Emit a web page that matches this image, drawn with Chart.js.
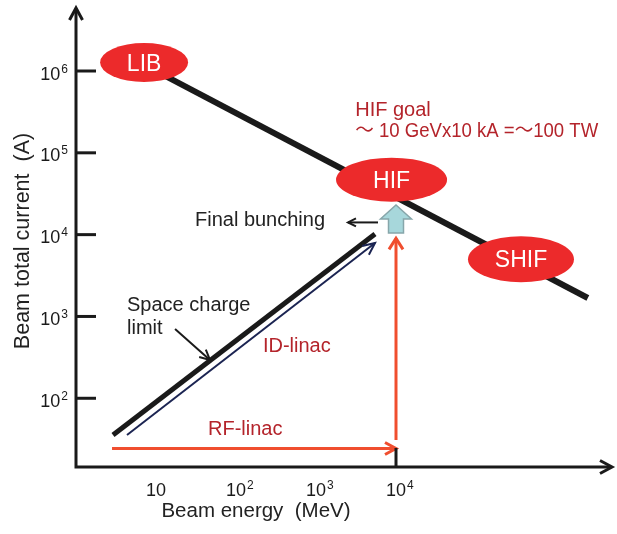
<!DOCTYPE html>
<html>
<head>
<meta charset="utf-8">
<script src="https://cdn.jsdelivr.net/npm/chart.js@4"></script>
<style>
  html, body { margin: 0; padding: 0; background: #fff; }
  #wrap { width: 617px; height: 534px; position: relative; }
</style>
</head>
<body>
<div id="wrap"><canvas id="chart"></canvas></div>
<script>
// Beam total current versus beam energy for ion-beam fusion drivers (log-log).

// Axis ticks
const energyTicks = [10, 100, 1000, 10000];                  // MeV
const currentTicks = [100, 1000, 10000, 100000, 1000000];    // A

// Driver regimes
const regimeNames = ['LIB', 'HIF', 'SHIF'];
const regimeEnergy = [7.1, 8800, 3.65e5];
const regimeCurrent = [1.27e6, 4.7e4, 5.0e3];

// Constant-power line through the regimes
const powerLineEnergy = [8.4, 2.5e6];
const powerLineCurrent = [1.09e6, 1.68e3];

// Space charge limit
const scLimitEnergy = [2.9, 5465];
const scLimitCurrent = [35.6, 1.02e4];

// Induction linac path
const idLinacEnergy = [4.34, 5465];
const idLinacCurrent = [35.6, 7900];

// RF linac: acceleration, then current build-up at 10 GeV
const rfAccelEnergy = [2.82, 10000];
const rfAccelCurrent = [24.3, 24.3];
const rfStackEnergy = [10000, 10000];
const rfStackCurrent = [30.9, 9000];

// Final bunching
const bunchEnergy = [10000, 10000];
const bunchCurrent = [1.05e4, 2.3e4];
const bunchPointerEnergy = [5960, 2510];
const bunchPointerCurrent = [1.41e4, 1.41e4];

// Callout for the space charge limit
const scPointerEnergy = [17.3, 47.3];
const scPointerCurrent = [703, 294];

const FONT = "'Liberation Sans', Arial, Helvetica, 'Noto Sans CJK JP', sans-serif";
const DARK_RED = '#b4242b';
const ELLIPSE_RED = '#ec2a2b';
const ARROW_RED = '#f04e2f';
const NAVY = '#1b2452';

// Text annotations anchored in data coordinates (left edge, baseline)
const notes = [
  { text: 'HIF goal', e: 3090, i: 2.82e5, color: DARK_RED },
  { text: '～ 10 GeVx10 kA =～100 TW', e: 3090, i: 1.56e5, color: DARK_RED, maxWidth: 243 },
  { text: 'Final bunching', e: 30.7, i: 1.28e4, color: '#222' },
  { text: 'Space charge', e: 4.34, i: 1170, color: '#222' },
  { text: 'limit', e: 4.34, i: 611, color: '#222' },
  { text: 'ID-linac', e: 217, i: 368, color: DARK_RED },
  { text: 'RF-linac', e: 44.7, i: 35.6, color: DARK_RED }
];

// Ellipse radii for the regime badges
const badgeSize = { LIB: [44, 19.5], HIF: [55.5, 22], SHIF: [53, 23] };

const pts = (ex, iy) => ex.map((v, k) => ({ x: v, y: iy[k] }));

function line(data, color, width, head) {
  return {
    data, borderColor: color, borderWidth: width, pointRadius: 0,
    pointHoverRadius: 0, fill: false, tension: 0, borderCapStyle: 'butt',
    arrowHead: head || null
  };
}

function openHead(ctx, x1, y1, x2, y2, len, half, color, lw) {
  const ang = Math.atan2(y2 - y1, x2 - x1);
  const bx = x2 - len * Math.cos(ang), by = y2 - len * Math.sin(ang);
  const nx = -Math.sin(ang), ny = Math.cos(ang);
  ctx.save();
  ctx.strokeStyle = color;
  ctx.lineWidth = lw;
  ctx.lineJoin = 'miter';
  ctx.lineCap = 'butt';
  ctx.beginPath();
  ctx.moveTo(bx + nx * half, by + ny * half);
  ctx.lineTo(x2, y2);
  ctx.lineTo(bx - nx * half, by - ny * half);
  ctx.stroke();
  ctx.restore();
}

function powerLabel(ctx, value, x, y, align, baseSize, supSize) {
  const exp = Math.round(Math.log10(value));
  ctx.font = baseSize + 'px ' + FONT;
  const wBase = ctx.measureText('10').width;
  ctx.font = supSize + 'px ' + FONT;
  const sup = exp === 1 ? '' : String(exp);
  const wSup = sup ? ctx.measureText(sup).width + 1 : 0;
  let left;
  if (align === 'right') left = x - wBase - wSup;
  else left = x - wBase / 2;   // base digits centred on the tick
  ctx.textAlign = 'left';
  ctx.textBaseline = 'alphabetic';
  ctx.font = baseSize + 'px ' + FONT;
  ctx.fillText('10', left, y);
  if (sup) {
    ctx.font = supSize + 'px ' + FONT;
    ctx.fillText(sup, left + wBase + 1, y - 7);
  }
}

const overlay = {
  id: 'overlay',
  afterDatasetsDraw(chart) {
    const { ctx, scales: { x, y } } = chart;

    // arrowheads at the end of flagged datasets
    chart.data.datasets.forEach((ds, k) => {
      if (!ds.arrowHead) return;
      const el = chart.getDatasetMeta(k).data;
      const p1 = el[el.length - 2], p2 = el[el.length - 1];
      openHead(ctx, p1.x, p1.y, p2.x, p2.y, ds.arrowHead[0], ds.arrowHead[1], ds.borderColor, ds.borderWidth);
    });

    // block arrow for final bunching
    const bx = x.getPixelForValue(bunchEnergy[0]);
    const yb = y.getPixelForValue(bunchCurrent[0]);
    const yt = y.getPixelForValue(bunchCurrent[1]);
    const headH = 14, headW = 15.5, shaftW = 7.5;
    ctx.save();
    ctx.beginPath();
    ctx.moveTo(bx - shaftW, yb);
    ctx.lineTo(bx - shaftW, yt + headH);
    ctx.lineTo(bx - headW, yt + headH);
    ctx.lineTo(bx, yt);
    ctx.lineTo(bx + headW, yt + headH);
    ctx.lineTo(bx + shaftW, yt + headH);
    ctx.lineTo(bx + shaftW, yb);
    ctx.closePath();
    ctx.fillStyle = '#a7d7db';
    ctx.fill();
    ctx.strokeStyle = '#87a6aa';
    ctx.lineWidth = 1.5;
    ctx.stroke();
    ctx.restore();

    // regime badges
    regimeNames.forEach((name, k) => {
      const cx = x.getPixelForValue(regimeEnergy[k]);
      const cy = y.getPixelForValue(regimeCurrent[k]);
      const [rx, ry] = badgeSize[name];
      ctx.save();
      ctx.beginPath();
      ctx.ellipse(cx, cy, rx, ry, 0, 0, Math.PI * 2);
      ctx.fillStyle = ELLIPSE_RED;
      ctx.fill();
      ctx.fillStyle = '#fff';
      ctx.font = '23px ' + FONT;
      ctx.textAlign = 'center';
      ctx.textBaseline = 'alphabetic';
      ctx.fillText(name, cx, cy + 8);
      ctx.restore();
    });

    // text notes
    ctx.save();
    ctx.textAlign = 'left';
    ctx.textBaseline = 'alphabetic';
    ctx.font = '20px ' + FONT;
    notes.forEach(n => {
      ctx.fillStyle = n.color;
      const px = x.getPixelForValue(n.e), py = y.getPixelForValue(n.i);
      if (n.maxWidth) ctx.fillText(n.text, px, py, n.maxWidth);
      else ctx.fillText(n.text, px, py);
    });
    ctx.restore();
  },
  afterDraw(chart) {
    const { ctx, chartArea: a, scales: { x, y } } = chart;
    ctx.save();
    ctx.strokeStyle = '#1a1a1a';
    ctx.fillStyle = '#1a1a1a';
    ctx.lineWidth = 3;
    ctx.lineCap = 'butt';

    // axes
    ctx.beginPath();
    ctx.moveTo(a.left, a.bottom);
    ctx.lineTo(a.left, a.top + 1);
    ctx.moveTo(a.left - 1.5, a.bottom);
    ctx.lineTo(a.right - 1, a.bottom);
    ctx.stroke();
    openHead(ctx, a.left, a.top + 12, a.left, a.top, 12, 6.5, '#1a1a1a', 3);
    openHead(ctx, a.right - 12, a.bottom, a.right, a.bottom, 12, 6.5, '#1a1a1a', 3);

    // y ticks
    currentTicks.forEach(v => {
      const py = y.getPixelForValue(v);
      ctx.beginPath();
      ctx.moveTo(a.left, py);
      ctx.lineTo(a.left + 20, py);
      ctx.stroke();
      powerLabel(ctx, v, a.left - 8, py + 8.5, 'right', 18, 12);
    });

    // single x tick at 10 GeV
    const tx = x.getPixelForValue(10000);
    ctx.beginPath();
    ctx.moveTo(tx, a.bottom);
    ctx.lineTo(tx, a.bottom - 19);
    ctx.stroke();

    energyTicks.forEach(v => {
      powerLabel(ctx, v, x.getPixelForValue(v), a.bottom + 29, 'center', 18, 12);
    });

    // axis titles
    ctx.fillStyle = '#222';
    ctx.textAlign = 'center';
    ctx.textBaseline = 'alphabetic';
    ctx.font = '20.5px ' + FONT;
    ctx.fillText('Beam energy  (MeV)', 256, 517);
    ctx.font = '21.5px ' + FONT;
    ctx.translate(29, 241);
    ctx.rotate(-Math.PI / 2);
    ctx.fillText('Beam total current  (A)', 0, 0);
    ctx.restore();
  }
};

new Chart(document.getElementById('chart'), {
  type: 'line',
  data: {
    datasets: [
      line(pts(powerLineEnergy, powerLineCurrent), '#1a1a1a', 6),
      line(pts(scLimitEnergy, scLimitCurrent), '#1a1a1a', 5),
      line(pts(idLinacEnergy, idLinacCurrent), NAVY, 2, [12, 5.5]),
      line(pts(rfAccelEnergy, rfAccelCurrent), ARROW_RED, 3, [11, 6]),
      line(pts(rfStackEnergy, rfStackCurrent), ARROW_RED, 3, [11, 7]),
      line(pts(bunchPointerEnergy, bunchPointerCurrent), '#1a1a1a', 2, [8, 4]),
      line(pts(scPointerEnergy, scPointerCurrent), '#1a1a1a', 2, [10, 5])
    ]
  },
  options: {
    responsive: true,
    maintainAspectRatio: false,
    animation: false,
    events: [],
    layout: { padding: { left: 76, right: 5, top: 8, bottom: 67 } },
    plugins: { legend: { display: false }, tooltip: { enabled: false } },
    scales: {
      x: { type: 'logarithmic', min: 1, max: Math.pow(10, 6.7), display: false },
      y: { type: 'logarithmic', min: Math.pow(10, 1.16), max: Math.pow(10, 6.77), display: false }
    }
  },
  plugins: [overlay]
});
</script>
</body>
</html>
